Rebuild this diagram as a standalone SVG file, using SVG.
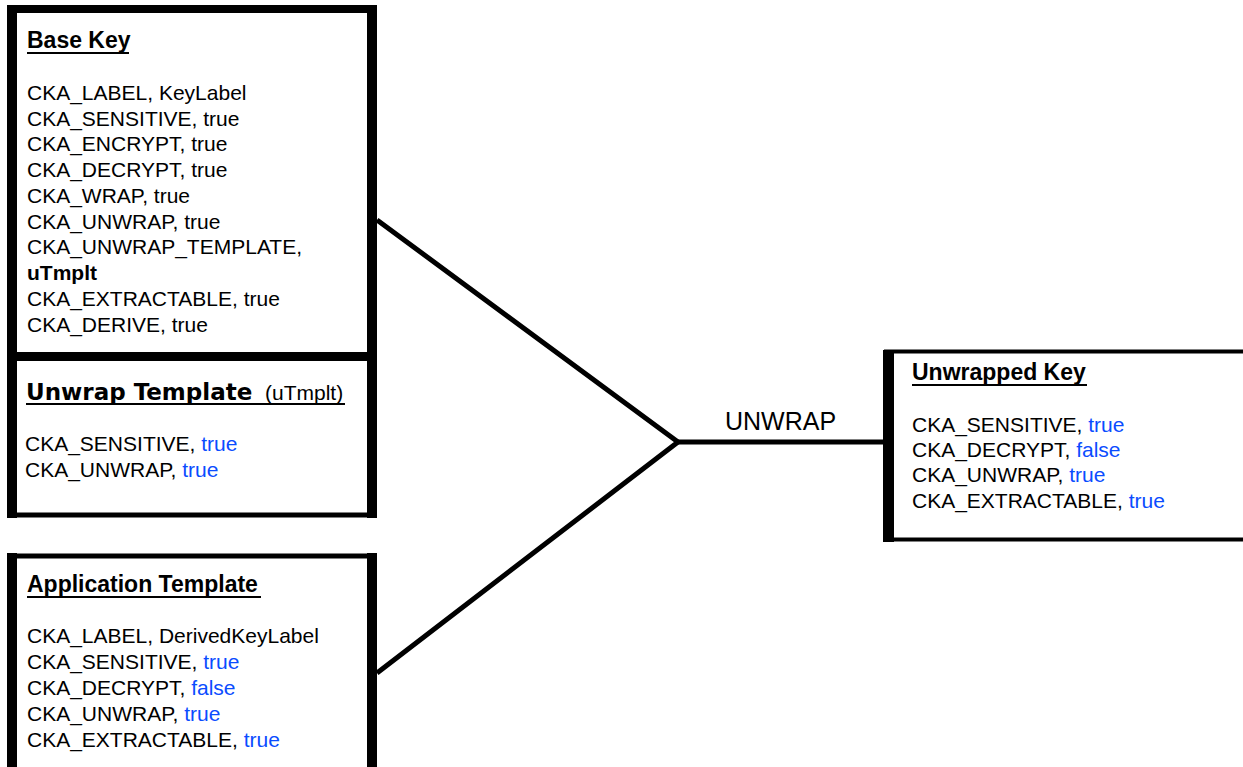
<svg xmlns="http://www.w3.org/2000/svg" width="1243" height="767" viewBox="0 0 1243 767">
<style>
.t{font-family:"Liberation Sans",Arial,sans-serif;font-size:21px;font-weight:normal;fill:#000}
.h{font-family:"Liberation Sans",Arial,sans-serif;font-size:23px;font-weight:bold;fill:#000}
.hv{font-family:"DejaVu Sans",Verdana,sans-serif;font-size:23px;font-weight:bold;fill:#000}
.b{fill:#0a4cff}
.ul{stroke:#000;stroke-width:2}
.box{fill:#fff;stroke:#000}
.bar{fill:#000}
.con{fill:none;stroke:#000;stroke-width:5;stroke-linejoin:round}
</style>
<rect width="1243" height="767" fill="#fff"/>
<g id="connectors">
<polyline class="con" points="377,220 678,442 377,673"/>
<line class="con" x1="678" y1="442" x2="886" y2="442"/>
<text class="t" x="725" y="430" style="font-size:25px">UNWRAP</text>
</g>
<g id="base-key">
<rect class="box" x="11" y="9" width="362" height="348" stroke-width="8"/>
<rect class="bar" x="7" y="5" width="10" height="356"/>
<rect class="bar" x="367" y="5" width="10" height="356"/>
<text class="h" x="27" y="48">Base Key</text>
<line class="ul" x1="27" y1="53" x2="129" y2="53"/>
<text class="t" x="27" y="100">CKA_LABEL, KeyLabel</text>
<text class="t" x="27" y="126">CKA_SENSITIVE, true</text>
<text class="t" x="27" y="151">CKA_ENCRYPT, true</text>
<text class="t" x="27" y="177">CKA_DECRYPT, true</text>
<text class="t" x="27" y="203">CKA_WRAP, true</text>
<text class="t" x="27" y="229">CKA_UNWRAP, true</text>
<text class="t" x="27" y="254">CKA_UNWRAP_TEMPLATE,</text>
<text class="t" x="27" y="280" style="font-weight:bold">uTmplt</text>
<text class="t" x="27" y="306">CKA_EXTRACTABLE, true</text>
<text class="t" x="27" y="332">CKA_DERIVE, true</text>
</g>
<g id="unwrap-template">
<rect class="box" x="10" y="357" width="364" height="158" stroke-width="5"/>
<rect class="bar" x="7" y="352" width="10" height="166"/>
<rect class="bar" x="367" y="352" width="10" height="166"/>
<rect class="bar" x="7" y="352" width="370" height="9"/>
<text class="hv" x="26" y="400">Unwrap Template</text>
<text class="t" x="265" y="400">(uTmplt)</text>
<line class="ul" x1="26" y1="404" x2="345" y2="404"/>
<text class="t" x="25" y="451">CKA_SENSITIVE, <tspan class="b">true</tspan></text>
<text class="t" x="25" y="477">CKA_UNWRAP, <tspan class="b">true</tspan></text>
</g>
<g id="application-template">
<rect class="box" x="10" y="556" width="364" height="230" stroke-width="5"/>
<rect class="bar" x="7" y="553" width="10" height="220"/>
<rect class="bar" x="367" y="553" width="10" height="220"/>
<text class="h" x="27" y="592">Application Template</text>
<line class="ul" x1="27" y1="597" x2="261" y2="597"/>
<text class="t" x="27" y="643">CKA_LABEL, DerivedKeyLabel</text>
<text class="t" x="27" y="669">CKA_SENSITIVE, <tspan class="b">true</tspan></text>
<text class="t" x="27" y="695">CKA_DECRYPT, <tspan class="b">false</tspan></text>
<text class="t" x="27" y="721">CKA_UNWRAP, <tspan class="b">true</tspan></text>
<text class="t" x="27" y="747">CKA_EXTRACTABLE, <tspan class="b">true</tspan></text>
</g>
<g id="unwrapped-key">
<rect class="box" x="886" y="351.5" width="380" height="188" stroke-width="4"/>
<rect class="bar" x="883" y="350" width="11" height="192"/>
<text class="h" x="912" y="380">Unwrapped Key</text>
<line class="ul" x1="912" y1="385" x2="1087" y2="385"/>
<text class="t" x="912" y="432">CKA_SENSITIVE, <tspan class="b">true</tspan></text>
<text class="t" x="912" y="457">CKA_DECRYPT, <tspan class="b">false</tspan></text>
<text class="t" x="912" y="482">CKA_UNWRAP, <tspan class="b">true</tspan></text>
<text class="t" x="912" y="508">CKA_EXTRACTABLE, <tspan class="b">true</tspan></text>
</g>
</svg>
